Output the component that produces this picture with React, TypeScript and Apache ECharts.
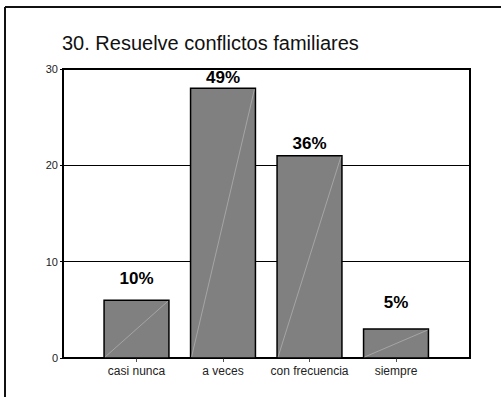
import React, { useEffect, useRef } from "react";
import * as echarts from "echarts";

const categories = ["casi nunca", "a veces", "con frecuencia", "siempre"];
const counts = [6, 28, 21, 3];
const pctLabels = ["10%", "49%", "36%", "5%"];
const yTicks = [0, 10, 20, 30];
const titleText = "30. Resuelve conflictos familiares";

// styling: distance (px) from bar top to label centre, as placed in the original
const labelGap = [22, 11, 12, 27];

const FONT = "'Liberation Sans', Arial, sans-serif";

export default function App() {
  const ref = useRef<HTMLDivElement>(null);
  useEffect(() => {
    if (!ref.current) return;
    const chart = echarts.init(ref.current, null, { renderer: "svg" });
    const yMin = yTicks[0];
    const yMax = yTicks[yTicks.length - 1];
    const yInt = yTicks[1] - yTicks[0];
    chart.setOption({
      animation: false,
      backgroundColor: "#ffffff",
      grid: [
        {
          left: 63,
          top: 69,
          width: 407,
          height: 289,
          show: true,
          borderColor: "#000",
          borderWidth: 2,
          backgroundColor: "transparent",
        },
        { left: 93.25, top: 69, width: 346, height: 289 },
      ],
      xAxis: [
        {
          gridIndex: 0,
          type: "value",
          min: 0,
          max: 1,
          axisLine: { show: true, onZero: false, lineStyle: { color: "#000", width: 2 } },
          axisTick: { show: false },
          axisLabel: { show: false },
          splitLine: { show: false },
        },
        {
          gridIndex: 1,
          type: "category",
          data: categories,
          boundaryGap: true,
          axisLine: { show: false },
          axisTick: {
            show: true,
            alignWithLabel: true,
            length: 4,
            lineStyle: { color: "#555", width: 1 },
          },
          axisLabel: {
            fontFamily: FONT,
            fontSize: 12,
            color: "#222",
            margin: 7,
            interval: 0,
          },
        },
      ],
      yAxis: [
        {
          gridIndex: 0,
          type: "value",
          min: yMin,
          max: yMax,
          interval: yInt,
          axisLine: { show: true, lineStyle: { color: "#000", width: 2 } },
          axisTick: { show: true, length: 3, lineStyle: { color: "#000" } },
          axisLabel: { fontFamily: FONT, fontSize: 11, color: "#222", margin: 5 },
          splitLine: { show: true, lineStyle: { color: "#000", width: 1 } },
        },
        {
          gridIndex: 1,
          type: "value",
          min: yMin,
          max: yMax,
          show: false,
        },
      ],
      graphic: [
        {
          type: "line",
          shape: { x1: 5, y1: 7, x2: 501, y2: 7 },
          style: { stroke: "#111", lineWidth: 2 },
        },
        {
          type: "line",
          shape: { x1: 5, y1: 7, x2: 5, y2: 397 },
          style: { stroke: "#111", lineWidth: 2 },
        },
        {
          type: "text",
          x: 62,
          y: 43,
          style: {
            text: titleText,
            font: `20px ${FONT}`,
            fill: "#111",
            textVerticalAlign: "middle",
            verticalAlign: "middle",
          },
        },
      ],
      series: [
        {
          type: "custom",
          xAxisIndex: 1,
          yAxisIndex: 1,
          data: counts.map((v, i) => [i, v]),
          renderItem: (params: any, api: any) => {
            const i = api.value(0);
            const v = api.value(1);
            const top = api.coord([i, v]);
            const base = api.coord([i, 0]);
            const bw = api.size([1, 0])[0] * 0.75;
            const left = top[0] - bw / 2;
            const idx = params.dataIndex;
            return {
              type: "group",
              children: [
                {
                  type: "rect",
                  shape: { x: left, y: top[1], width: bw, height: base[1] - top[1] },
                  style: { fill: "#808080", stroke: "#000", lineWidth: 1.5 },
                },
                {
                  type: "line",
                  shape: { x1: left + 1, y1: base[1] - 1, x2: left + bw - 1, y2: top[1] + 1 },
                  style: { stroke: "#b4b4b4", lineWidth: 0.7 },
                },
                {
                  type: "text",
                  x: top[0],
                  y: top[1] - labelGap[idx],
                  style: {
                    text: pctLabels[idx],
                    font: `bold 17px ${FONT}`,
                    fill: "#000",
                    align: "center",
                    verticalAlign: "middle",
                  },
                },
              ],
            };
          },
        },
      ],
    });
    return () => chart.dispose();
  }, []);
  return (
    <div
      ref={ref}
      style={{ position: "fixed", left: 0, top: 0, width: 501, height: 397, background: "#fff" }}
    />
  );
}
